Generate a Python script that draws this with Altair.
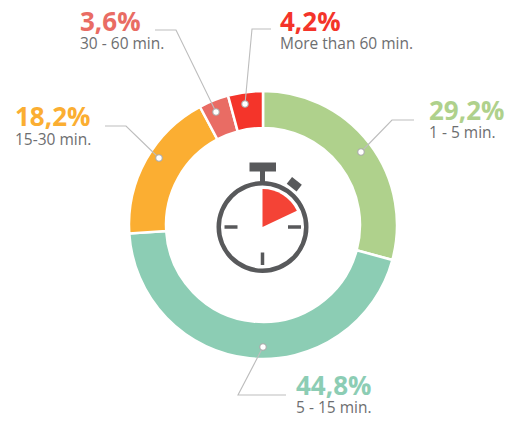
import altair as alt
import pandas as pd

# Data values
categories = ["1 - 5 min.", "5 - 15 min.", "15-30 min.", "30 - 60 min.", "More than 60 min."]
shares = [29.2, 44.8, 18.2, 3.6, 4.2]
percent_labels = ["29,2%", "44,8%", "18,2%", "3,6%", "4,2%"]
colors = ["#AFD18C", "#8CCDB4", "#FBAE32", "#E96C64", "#F4342A"]

# Text anchors, in page pixels
label_x = [429, 296, 15, 80, 280]
pct_y = [120, 395, 126, 31, 31]
cat_y = [138, 413, 145, 49, 49]

# Leader lines, in page pixels
leader_x = [[414, 392, 361], [286, 238, 263], [105, 126, 159], [155, 176, 216], [271, 252, 245]]
leader_y = [[120, 120, 152], [395, 395, 347], [126, 126, 158], [30, 30, 112], [29, 29, 104]]

CX, CY = 263, 225
WCX, WCY = 262.5, 227
GRAY = "#58595B"

X = alt.Scale(domain=[8, 507], range=[0, 499], nice=False, zero=False)
Y = alt.Scale(domain=[8, 415], range=[0, 407], nice=False, zero=False)
def x(f): return alt.X(f, type="quantitative", scale=X, axis=None)
def y(f): return alt.Y(f, type="quantitative", scale=Y, axis=None)

donut_df = pd.DataFrame({"cat": categories, "v": shares, "i": range(5), "cx": CX, "cy": CY})
donut = alt.Chart(donut_df).mark_arc(radius=134, radius2=97, stroke="white", strokeWidth=2.5).encode(
    x=x("cx"), y=y("cy"),
    theta=alt.Theta("v:Q", stack=True),
    order=alt.Order("i:Q"),
    color=alt.Color("cat:N", scale=alt.Scale(domain=categories, range=colors), legend=None),
)

rows = []
for k in range(5):
    for j in range(3):
        rows.append({"k": k, "j": j, "x": leader_x[k][j], "y": leader_y[k][j]})
ldf = pd.DataFrame(rows)
leaders = alt.Chart(ldf).mark_line(color="#BDBDBD", strokeWidth=1.1).encode(
    x=x("x"), y=y("y"), detail="k:N", order="j:Q")
dots = alt.Chart(ldf[ldf.j == 2]).mark_point(
    filled=True, fill="white", stroke="#A8A8A8", strokeWidth=1.1, size=42, opacity=1
).encode(x=x("x"), y=y("y"))

tdf = pd.DataFrame({"x": label_x, "py": pct_y, "cy": cat_y, "p": percent_labels, "c": categories})
pct = alt.Chart(tdf).mark_text(align="left", baseline="alphabetic", font="Open Sans",
                               fontWeight="bold", fontSize=26).encode(
    x=x("x"), y=y("py"), text="p:N",
    color=alt.Color("c:N", scale=alt.Scale(domain=categories, range=colors), legend=None))
cat = alt.Chart(tdf).mark_text(align="left", baseline="alphabetic", font="Open Sans",
                               fontSize=15.5, color="#6D6E70").encode(
    x=x("x"), y=y("cy"), text="c:N")

# Stopwatch
w = pd.DataFrame({"x": [WCX], "y": [WCY]})
ring = alt.Chart(w).mark_arc(radius=46, radius2=41.5, theta=0, theta2=6.2832, color=GRAY).encode(x=x("x"), y=y("y"))
sector = alt.Chart(w).mark_arc(radius=38, radius2=0, theta=0, theta2=1.13, color="#F44336").encode(x=x("x"), y=y("y"))

seg_x1 = [224.5, 288, 262.5, 262.5, 249.5, 289.4]
seg_x2 = [237.5, 301, 262.5, 262.5, 276, 299.2]
seg_y1 = [227, 227, 252.5, 170, 167, 180.4]
seg_y2 = [227, 227, 265, 183, 167, 188.2]
seg_w = [3.5, 3.5, 3.5, 5, 9, 8.5]
sdf = pd.DataFrame({"x": seg_x1, "x2": seg_x2, "y": seg_y1, "y2": seg_y2, "w": seg_w})
segs = [
    alt.Chart(sdf.iloc[[i]]).mark_rule(color=GRAY, strokeWidth=seg_w[i]).encode(
        x=x("x"), x2="x2:Q", y=y("y"), y2="y2:Q")
    for i in range(len(seg_w))
]

chart = alt.layer(donut, leaders, dots, pct, cat, ring, sector, *segs).resolve_scale(
    color="shared"
).properties(
    width=499, height=407, padding=0, autosize=alt.AutoSizeParams(type="none"),
    background="white"
).configure_view(stroke=None)

chart.save("out.html", embed_options={"renderer": "svg", "actions": False})
